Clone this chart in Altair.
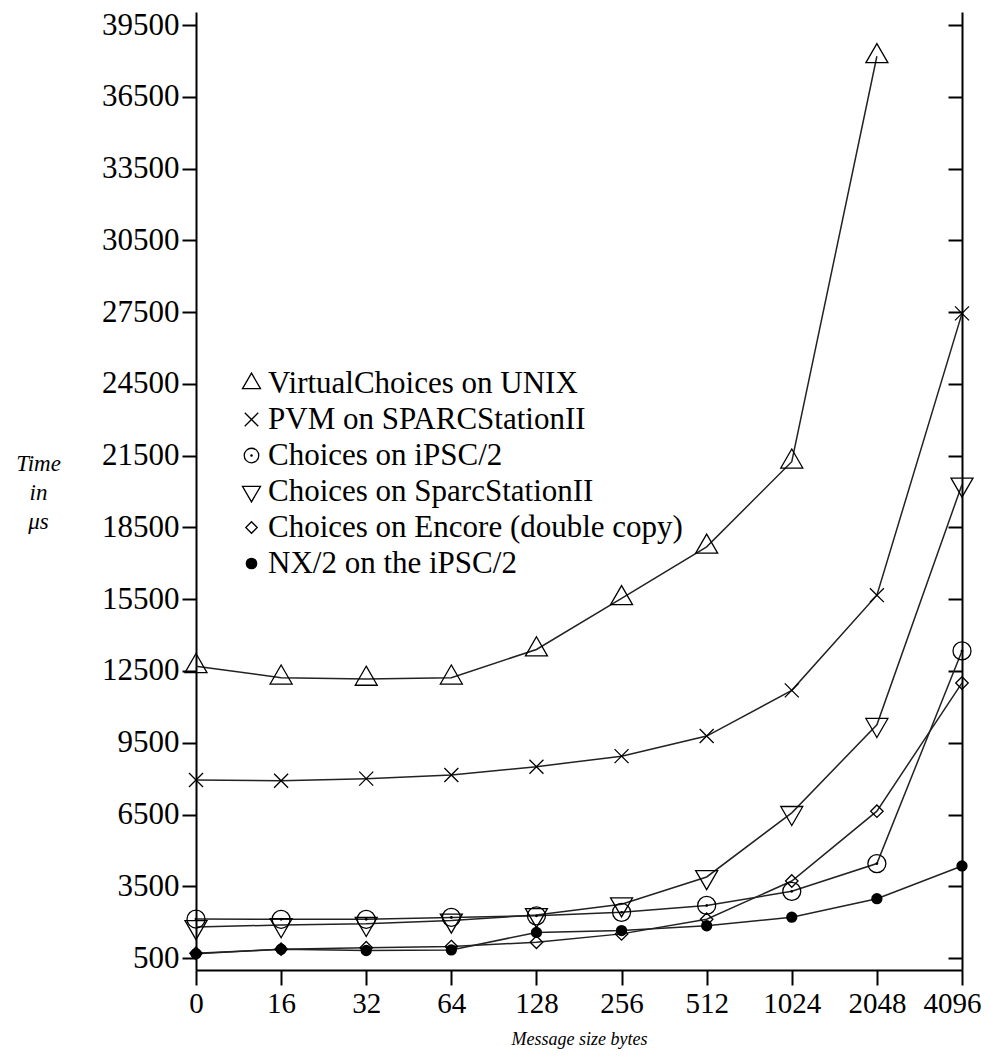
import altair as alt
import pandas as pd

sizes = ["0", "16", "32", "64", "128", "256", "512", "1024", "2048", "4096"]
series_names = [
    "VirtualChoices on UNIX",
    "PVM on SPARCStationII",
    "Choices on iPSC/2",
    "Choices on SparcStationII",
    "Choices on Encore (double copy)",
    "NX/2 on the iPSC/2",
]
virtual = [12700, 12220, 12170, 12220, 13400, 15540, 17690, 21250, 38200, None]
pvm = [7940, 7910, 8000, 8150, 8500, 8940, 9780, 11690, 15670, 27450]
ipsc = [2130, 2120, 2120, 2200, 2265, 2410, 2700, 3290, 4450, 13340]
sparc = [1800, 1880, 1930, 2070, 2300, 2750, 3890, 6570, 10250, 20300]
encore = [700, 870, 930, 980, 1160, 1510, 2120, 3720, 6640, 12000]
nx = [675, 870, 815, 840, 1570, 1650, 1850, 2210, 2980, 4350]
y_ticks = [500, 3500, 6500, 9500, 12500, 15500, 18500, 21500, 24500, 27500,
           30500, 33500, 36500, 39500]

rows = []
for name, vals in zip(series_names, [virtual, pvm, ipsc, sparc, encore, nx]):
    for s, v in zip(sizes, vals):
        if v is not None:
            rows.append({"size": s, "time": v, "series": name})
df = pd.DataFrame(rows)

FONT = "Liberation Serif"
W, H = 766, 958


def ring(r):
    return f"M{-r},0A{r},{r},0,1,0,{r},0A{r},{r},0,1,0,{-r},0Z"


shapes = [
    "M0,-1L0.866,0.5L-0.866,0.5Z",
    "M-0.65,-0.65L0.65,0.65M-0.65,0.65L0.65,-0.65",
    ring(0.7) + ring(0.06),
    "M0,1L0.866,-0.5L-0.866,-0.5Z",
    "M0,-0.55L0.55,0L0,0.55L-0.55,0Z",
    "".join(ring(r) for r in [0.5, 0.45, 0.4, 0.35, 0.3, 0.25, 0.2, 0.15, 0.1, 0.05]),
]
msizes = [645, 463, 661, 645, 516, 400]

last_label = "datum.value === '4096'"
x_enc = alt.X("size:O", sort=sizes, scale=alt.Scale(type="point", padding=0),
              axis=alt.Axis(title="Message size bytes", labelAngle=0, labelFontSize=29,
                            labelAlign={"condition": {"test": last_label, "value": "right"},
                                        "value": "center"},
                            labelOffset={"condition": {"test": last_label, "value": 19},
                                         "value": 0},
                            titleFontStyle="italic", titleFontSize=18,
                            titleFontWeight="normal", titlePadding=12,
                            labelPadding=4, tickSize=15))
x_plain = alt.X("size:O", sort=sizes, scale=alt.Scale(type="point", padding=0))
y_scale = alt.Scale(domain=[0, 40050], nice=False, zero=False)

legend_def = alt.Legend(title=None, orient="none", legendX=40, legendY=356,
                        labelFont=FONT, labelFontSize=31, labelColor="black",
                        symbolStrokeColor="black", symbolStrokeWidth=1.3,
                        symbolSize=432, rowPadding=4, labelOffset=1, labelLimit=700)

lines = alt.Chart(df).mark_line(color="#222222", strokeWidth=1.5).encode(
    x=x_enc,
    y=alt.Y("time:Q", scale=y_scale,
            axis=alt.Axis(orient="left", values=y_ticks, format="d", labelFontSize=31,
                          title=["Time", "in", "μs"],
                          titleAngle=0, titleAlign="center", titleBaseline="middle",
                          titleX=-158, titleY=451, titleFontStyle="italic",
                          titleFontWeight="normal", titleFontSize=23,
                          titleLineHeight=29, tickSize=14, labelPadding=3,
                          grid=False)),
    detail="series:N",
)

layers = [lines]
for i, name in enumerate(series_names):
    pts = alt.Chart(df).transform_filter(
        alt.datum.series == name
    ).mark_point(color="black", strokeWidth=1.3, opacity=1, filled=False,
                 size=msizes[i]).encode(
        x=x_plain,
        y=alt.Y("time:Q", scale=y_scale,
                axis=alt.Axis(orient="left", offset=-W, values=y_ticks, labels=False,
                              title=None, tickSize=14, grid=False) if i == 0 else None),
        shape=alt.Shape("series:N", scale=alt.Scale(domain=series_names, range=shapes),
                        legend=legend_def),
    )
    layers.append(pts)

chart = alt.layer(*layers).resolve_axis(y="independent").properties(
    width=W, height=H,
    background="white",
    autosize=alt.AutoSizeParams(type="none"),
    padding={"left": 188, "top": 4, "right": 20, "bottom": 84},
).configure_view(strokeWidth=0).configure_axis(
    labelFont=FONT, titleFont=FONT, labelColor="black",
    titleColor="black", domainColor="black", tickColor="black",
    domainWidth=2, tickWidth=2,
)

chart.save("out.html", embed_options={"renderer": "svg", "actions": False})
